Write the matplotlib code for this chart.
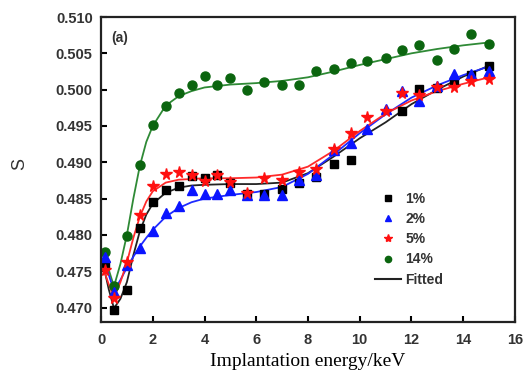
import numpy as np
import matplotlib
matplotlib.use("Agg")
import matplotlib.pyplot as plt
from matplotlib.lines import Line2D

# measured points (energy in keV, S parameter)
e_all = [0.15, 0.5, 1.0, 1.5, 2.0, 2.5, 3.0, 3.5, 4.0, 4.5, 5.0, 5.65, 6.3,
         7.0, 7.65, 8.3, 9.0, 9.65, 10.3, 11.0, 11.65, 12.3, 13.0, 13.65, 14.3, 15.0]

e_1 = [0.15, 0.5, 1.0, 1.5, 2.0, 2.5, 3.0, 3.5, 4.0, 4.5, 5.0, 5.65, 6.3,
       7.0, 7.65, 8.3, 9.0, 9.65, 11.65, 12.3, 13.0, 13.65, 14.3, 15.0]
s_1 = [0.4758, 0.4697, 0.4724, 0.4810, 0.4845, 0.4862, 0.4867, 0.4881, 0.4878, 0.4883,
       0.4871, 0.4857, 0.4857, 0.4863, 0.4871, 0.4880, 0.4898, 0.4903,
       0.4971, 0.5001, 0.5002, 0.5012, 0.5020, 0.5032]

s_2 = [0.4770, 0.4721, 0.4758, 0.4782, 0.4806, 0.4830, 0.4840, 0.4862, 0.4856, 0.4857,
       0.4862, 0.4855, 0.4855, 0.4855, 0.4875, 0.4883, 0.4917, 0.4926,
       0.4946, 0.4973, 0.4998, 0.4985, 0.5005, 0.5022, 0.5022, 0.5026]

s_5 = [0.4752, 0.4713, 0.4762, 0.4828, 0.4868, 0.4884, 0.4886, 0.4882, 0.4874, 0.4882,
       0.4873, 0.4858, 0.4878, 0.4875, 0.4887, 0.4891, 0.4918, 0.4940,
       0.4963, 0.4971, 0.4996, 0.4992, 0.5003, 0.5004, 0.5012, 0.5014]

s_14 = [0.4777, 0.4729, 0.4799, 0.4896, 0.4951, 0.4977, 0.4996, 0.5007, 0.5019, 0.5006,
        0.5016, 0.5000, 0.5011, 0.5006, 0.5006, 0.5025, 0.5028, 0.5036,
        0.5039, 0.5043, 0.5055, 0.5061, 0.5041, 0.5056, 0.5077, 0.5063]

# fitted curves
e_fit = [0.1, 0.3, 0.5, 0.75, 1.0, 1.25, 1.5, 1.75, 2.0, 2.5, 3.0, 3.5, 4.0,
         5.0, 6.0, 7.0, 8.0, 9.0, 10.0, 11.0, 12.0, 13.0, 14.0, 15.0]
fit_1 = [0.4757, 0.4725, 0.4699, 0.4712, 0.4735, 0.4772, 0.4805, 0.4828, 0.4843, 0.4858,
         0.4865, 0.4868, 0.4869, 0.4870, 0.4870, 0.4872, 0.4885, 0.4908, 0.4933, 0.4955,
         0.4980, 0.5000, 0.5018, 0.5033]
fit_2 = [0.4770, 0.4745, 0.4723, 0.4738, 0.4755, 0.4770, 0.4784, 0.4796, 0.4807, 0.4825,
         0.4837, 0.4845, 0.4850, 0.4855, 0.4859, 0.4866, 0.4884, 0.4911, 0.4940, 0.4966,
         0.4989, 0.5006, 0.5020, 0.5032]
fit_5 = [0.4752, 0.4732, 0.4713, 0.4735, 0.4762, 0.4796, 0.4825, 0.4846, 0.4860, 0.4872,
         0.4876, 0.4877, 0.4878, 0.4878, 0.4879, 0.4883, 0.4894, 0.4916, 0.4943, 0.4967,
         0.4985, 0.4998, 0.5008, 0.5017]
fit_14 = [0.4777, 0.4752, 0.4729, 0.4760, 0.4800, 0.4850, 0.4895, 0.4928, 0.4950, 0.4978,
          0.4991, 0.4998, 0.5003, 0.5007, 0.5009, 0.5012, 0.5017, 0.5025, 0.5034, 0.5042,
          0.5050, 0.5056, 0.5061, 0.5065]

labels = ["1%", "2%", "5%", "14%"]

fig = plt.figure(figsize=(5.3, 3.78), dpi=100)
ax = fig.add_axes([0.1906, 0.148, 0.781, 0.807])

# fitted lines
ax.plot(e_fit, fit_14, color="#2f8a36", lw=1.3)
ax.plot(e_fit, fit_1, color="#222222", lw=1.3)
ax.plot(e_fit, fit_2, color="#1f2bff", lw=1.3)
ax.plot(e_fit, fit_5, color="#ff2a2a", lw=1.3)

# points
ax.plot(e_all, s_14, "o", color="#0b650f", ms=6.5, ls="none")
ax.plot(e_1, s_1, "s", color="black", ms=5.5, ls="none")
ax.plot(e_all, s_2, "^", color="#0a14ff", ms=6.5, ls="none")
ax.plot(e_all, s_5, "*", color="#ff1010", ms=8.5, ls="none")

ax.set_xlim(0, 16)
ax.set_ylim(0.468, 0.510)
ax.set_xticks(np.arange(0, 17, 2))
ax.set_yticks(np.arange(0.470, 0.5101, 0.005))
ax.set_yticklabels(["%.3f" % v for v in np.arange(0.470, 0.5101, 0.005)])
ax.tick_params(direction="in", length=4, width=1.5, labelsize=10.5,
               labelcolor="#333333", top=False, right=False)
for lab in ax.get_xticklabels() + ax.get_yticklabels():
    lab.set_fontweight("bold")
    lab.set_family("Liberation Sans")
ax.tick_params(axis="x", pad=8)
ax.tick_params(axis="y", pad=6)
for sp in ax.spines.values():
    sp.set_linewidth(1.6)
    sp.set_color("#222222")

ax.set_xlabel("Implantation energy/keV", family="Liberation Serif", fontsize=14, labelpad=4)
fig.text(0.038, 0.565, "S", rotation=90, fontsize=13, family="Liberation Sans",
         color="#333333", ha="center", va="center")
ax.text(0.025, 0.955, "(a)", transform=ax.transAxes, fontsize=10, fontweight="bold",
        family="Liberation Sans", color="#333333", va="top")

handles = [
    Line2D([], [], marker="s", color="black", ls="none", ms=4),
    Line2D([], [], marker="^", color="#0a14ff", ls="none", ms=5),
    Line2D([], [], marker="*", color="#ff1010", ls="none", ms=6),
    Line2D([], [], marker="o", color="#0b650f", ls="none", ms=4.5),
    Line2D([], [], color="#222222", lw=1.5),
]
leg = ax.legend(handles, labels + ["Fitted"], loc="upper left", bbox_to_anchor=(0.645, 0.45),
                frameon=False, handlelength=1.9, handletextpad=0.3, labelspacing=0.45,
                borderpad=0, prop={"family": "Liberation Sans", "weight": "bold", "size": 10})
for t in leg.get_texts():
    t.set_color("#333333")

fig.savefig("out.png", dpi=100)
